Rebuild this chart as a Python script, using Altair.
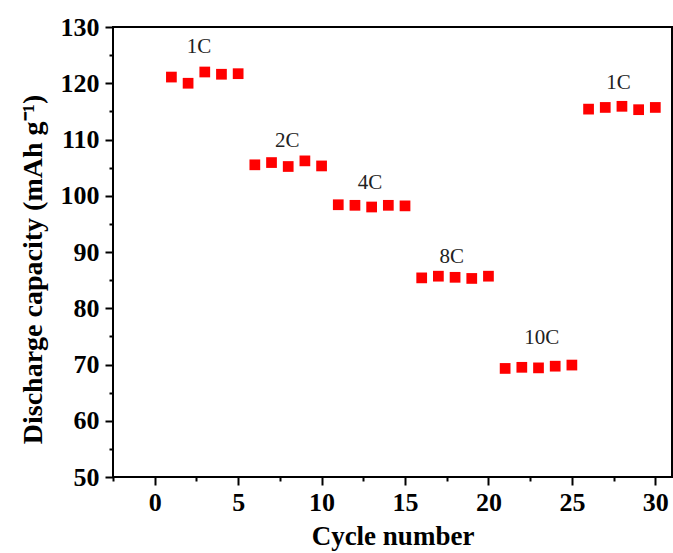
import altair as alt
import pandas as pd

# Discharge capacity at each cycle, in blocks of five cycles per C-rate
cycles = list(range(1, 31))
capacity = [
    121.1, 120.0, 122.0, 121.6, 121.7,   # 1C
    105.5, 105.9, 105.2, 106.2, 105.3,   # 2C
    98.4, 98.3, 98.0, 98.3, 98.2,        # 4C
    85.4, 85.7, 85.5, 85.3, 85.7,        # 8C
    69.3, 69.5, 69.4, 69.7, 69.9,        # 10C
    115.4, 115.7, 115.9, 115.3, 115.7,   # 1C
]

# C-rate labels and where they sit (cycle, capacity)
rate_labels = ["1C", "2C", "4C", "8C", "10C", "1C"]
label_cycle = [2.65, 7.95, 12.9, 17.8, 23.2, 27.8]
label_capacity = [126.4, 109.8, 102.3, 89.2, 74.7, 120.0]

x_major = [0, 5, 10, 15, 20, 25, 30]
x_minor = [-2.5, 2.5, 7.5, 12.5, 17.5, 22.5, 27.5]
y_major = [50, 60, 70, 80, 90, 100, 110, 120, 130]
y_minor = [55, 65, 75, 85, 95, 105, 115, 125]

df = pd.DataFrame({"cycle": cycles, "capacity": capacity})
labels_df = pd.DataFrame({"cycle": label_cycle, "capacity": label_capacity, "label": rate_labels})

FONT = "Liberation Serif"

xs = alt.Scale(domain=[-2.5, 31], nice=False, zero=False)
ys = alt.Scale(domain=[50, 130], nice=False, zero=False)

major_x = alt.Axis(
    orient="bottom", values=x_major, title="Cycle number", grid=False, domain=False,
    tickSize=8, tickWidth=2, tickColor="black",
    labelFont=FONT, labelFontSize=26, labelFontWeight="bold", labelColor="black",
    labelPadding=4, format="d",
    titleFont=FONT, titleFontSize=27, titleFontWeight="bold", titleColor="black",
    titleBaseline="alphabetic", titleY=67,
)
major_y = alt.Axis(
    orient="left", values=y_major, title="Discharge capacity (mAh g\u207b\u00b9)", grid=False, domain=False,
    tickSize=8, tickWidth=2, tickColor="black",
    labelFont=FONT, labelFontSize=26, labelFontWeight="bold", labelColor="black",
    labelPadding=6, format="d",
    titleFont=FONT, titleFontSize=28, titleFontWeight="bold", titleColor="black",
    titleBaseline="alphabetic", titleX=-72, titleY=242,
)
minor_x = alt.Axis(
    orient="bottom", values=x_minor, labels=False, title=None, grid=False, domain=False,
    tickSize=4, tickWidth=2, tickColor="black",
)
minor_y = alt.Axis(
    orient="left", values=y_minor, labels=False, title=None, grid=False, domain=False,
    tickSize=4, tickWidth=2, tickColor="black",
)

minor = alt.Chart(df).mark_point(opacity=0).encode(
    x=alt.X("cycle:Q", scale=xs, axis=minor_x),
    y=alt.Y("capacity:Q", scale=ys, axis=minor_y),
)

points = alt.Chart(df).mark_square(size=115, color="#ff0000", opacity=1).encode(
    x=alt.X("cycle:Q", scale=xs, axis=major_x),
    y=alt.Y("capacity:Q", scale=ys, axis=major_y),
)

text = alt.Chart(labels_df).mark_text(
    font=FONT, fontSize=21, color="#222222", baseline="middle", align="center"
).encode(
    x=alt.X("cycle:Q", scale=xs, axis=None),
    y=alt.Y("capacity:Q", scale=ys, axis=None),
    text="label:N",
)

chart = (
    alt.layer(minor, points, text)
    .resolve_axis(x="independent", y="independent")
    .properties(
        width=559, height=450,
        autosize=alt.AutoSizeParams(type="none"),
        padding={"left": 113, "top": 27, "right": 1, "bottom": 76},
        background="white",
    )
    .configure_view(stroke="black", strokeWidth=2)
)

chart.save("out.html", embed_options={"renderer": "svg", "actions": False})
